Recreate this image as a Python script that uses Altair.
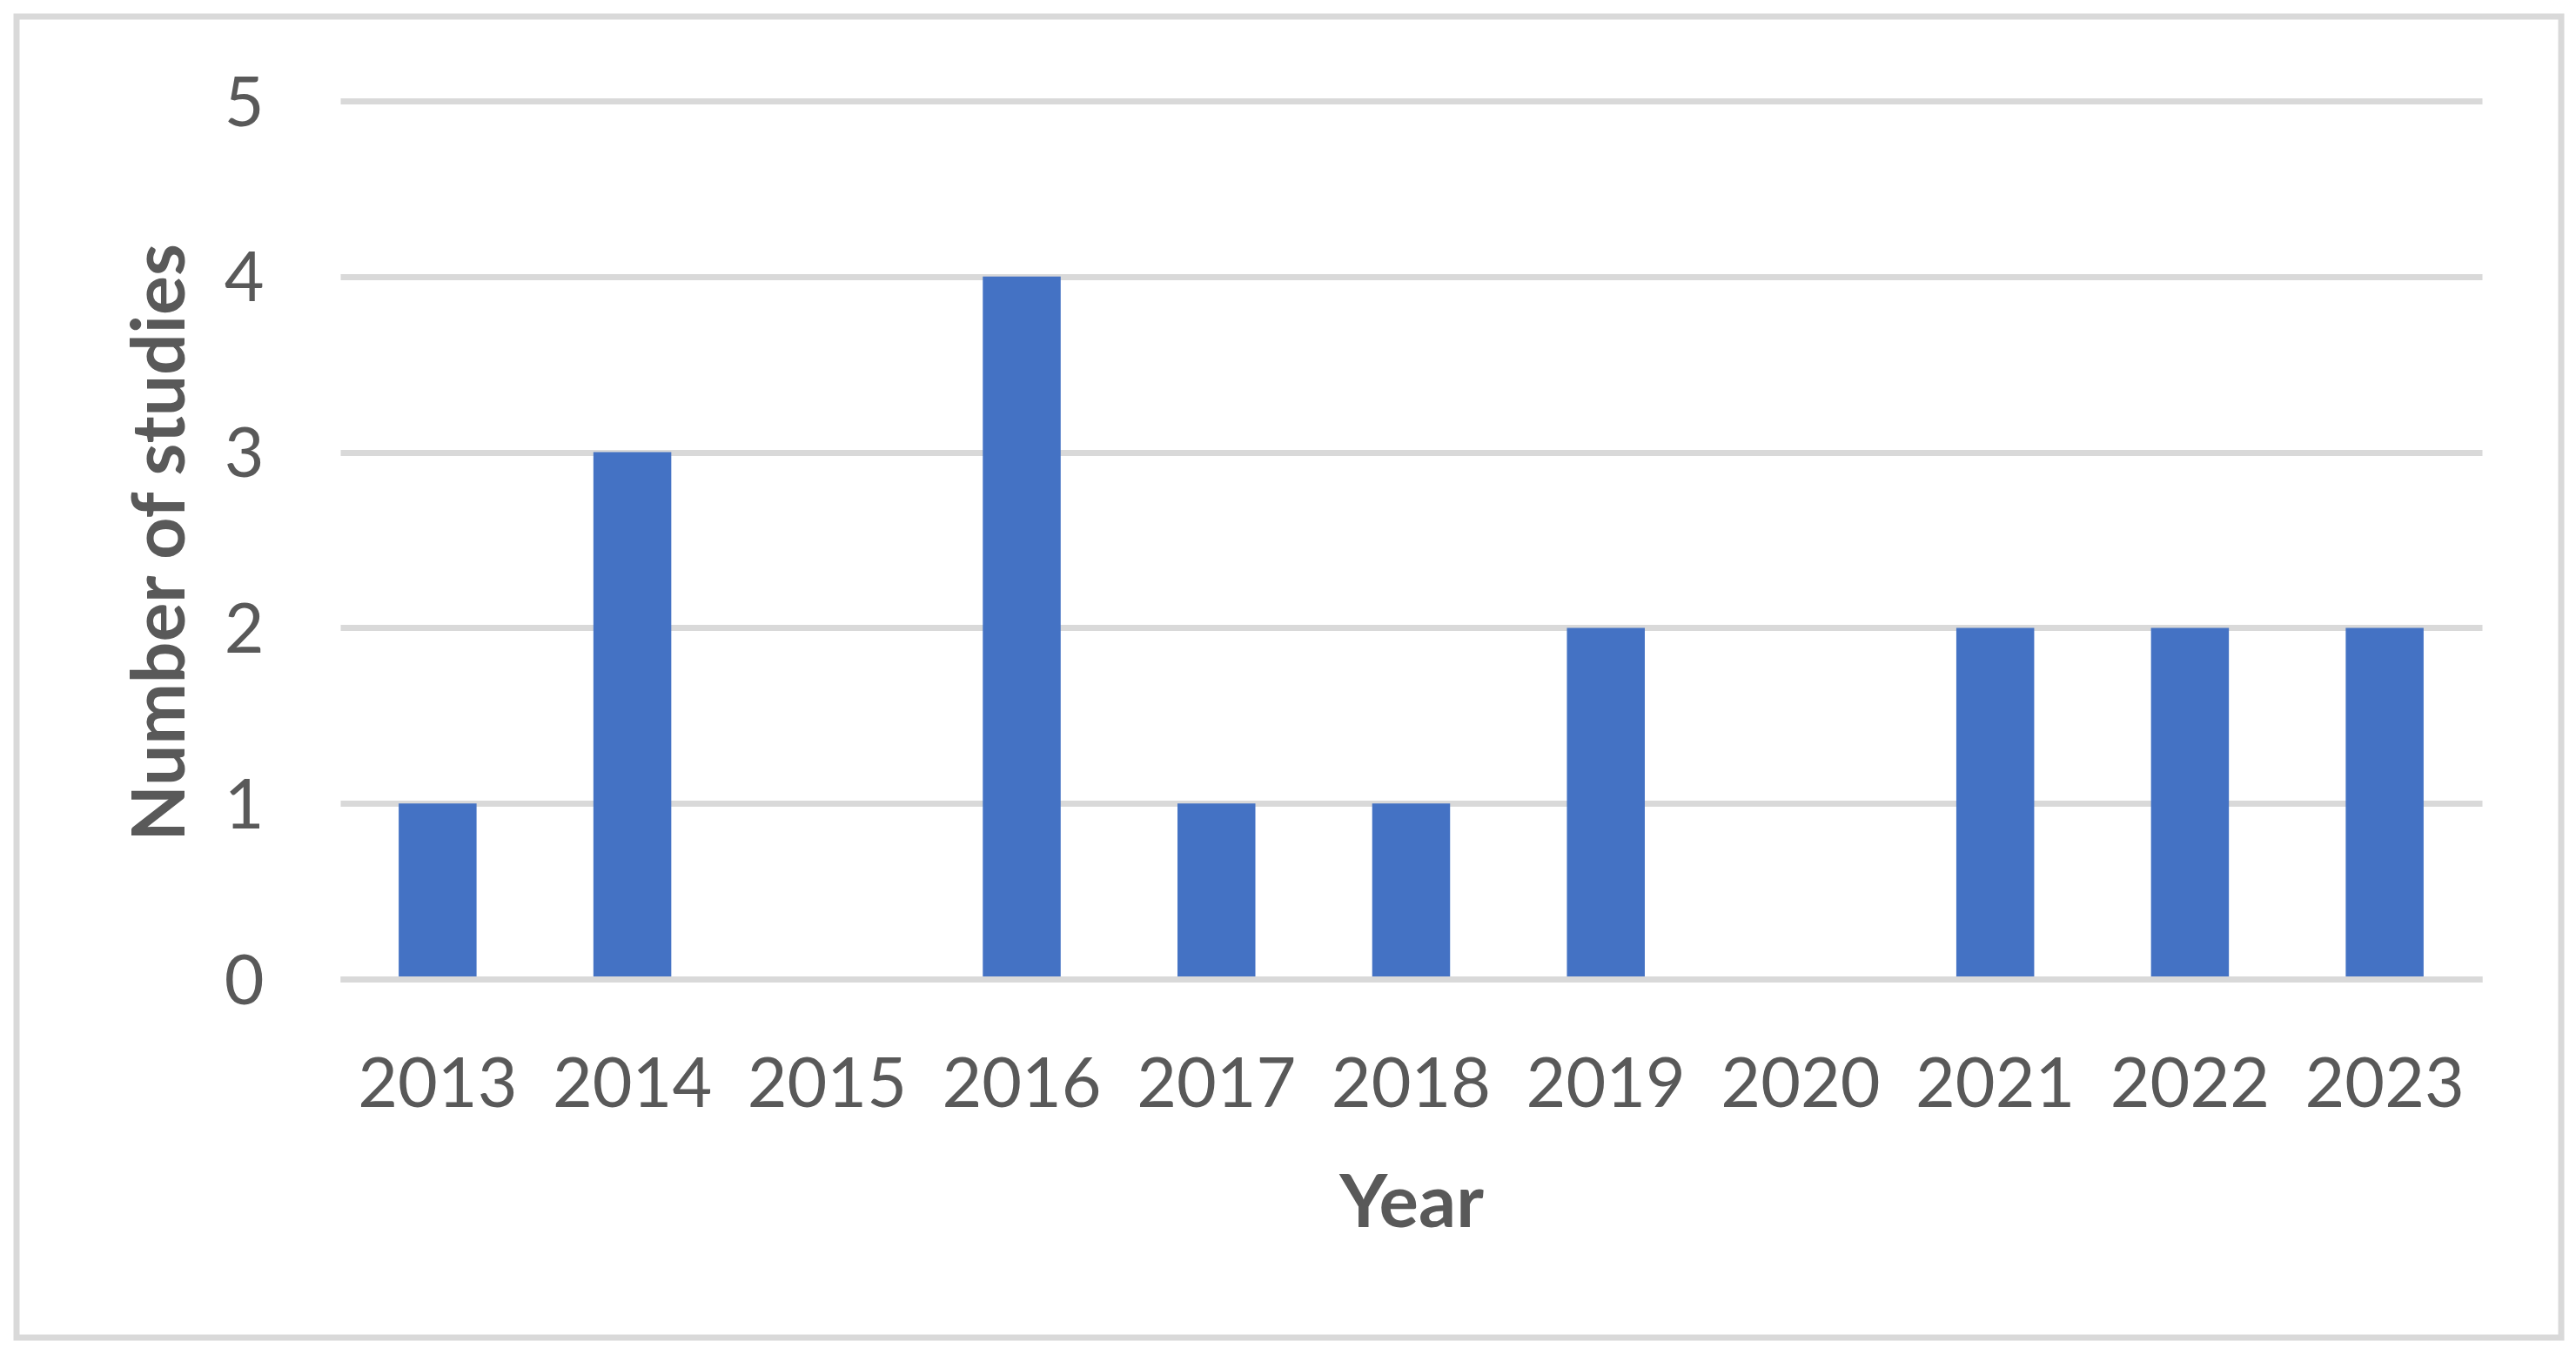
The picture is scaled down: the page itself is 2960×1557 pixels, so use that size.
import altair as alt
import pandas as pd

years = ["2013", "2014", "2015", "2016", "2017", "2018", "2019", "2020", "2021", "2022", "2023"]
counts = [1, 3, 0, 4, 1, 1, 2, 0, 2, 2, 2]
y_ticks = [0, 1, 2, 3, 4, 5]

df = pd.DataFrame({"Year": years, "Number of studies": counts})

TEXT = "#595959"
GRID = "#D9D9D9"
FONT = "Lato"

W, H = 2461, 1009

bars = alt.Chart(df).mark_bar(color="#4472C4").encode(
    x=alt.X(
        "Year:N",
        sort=years,
        scale=alt.Scale(paddingInner=0.6, paddingOuter=0.3),
        axis=alt.Axis(
            title="Year",
            labelAngle=0,
            labelLimit=0,
            labelFont=FONT,
            labelFontSize=79,
            labelColor=TEXT,
            labelBaseline="alphabetic",
            labelPadding=146,
            ticks=False,
            tickSize=0,
            domain=True,
            domainColor=GRID,
            domainWidth=7,
            grid=False,
            titleFont=FONT,
            titleFontSize=85,
            titleFontWeight="bold",
            titleColor=TEXT,
            titleBaseline="alphabetic",
            titleAlign="center",
            titleX=W / 2,
            titleY=284,
            zindex=1,
        ),
    ),
    y=alt.Y(
        "Number of studies:Q",
        scale=alt.Scale(domain=[0, 5], nice=False),
        axis=alt.Axis(
            title="Number of studies",
            values=y_ticks,
            format="d",
            labelFont=FONT,
            labelFontSize=79,
            labelColor=TEXT,
            labelBaseline="alphabetic",
            labelOffset=28,
            labelPadding=88,
            ticks=False,
            tickSize=0,
            domain=False,
            grid=True,
            gridColor=GRID,
            gridWidth=7,
            titleFont=FONT,
            titleFontSize=84,
            titleFontWeight="bold",
            titleColor=TEXT,
            titleAngle=270,
            titleBaseline="alphabetic",
            titleAlign="center",
            titleX=-180,
            titleY=507,
        ),
    ),
)

frame = alt.Chart(pd.DataFrame({"f": [0]})).mark_rect(
    fillOpacity=0, stroke=GRID, strokeWidth=7
).encode(
    x=alt.value(-372), x2=alt.value(2552), y=alt.value(-97), y2=alt.value(1421)
)

chart = alt.layer(frame, bars).properties(
    width=W,
    height=H,
    autosize=alt.AutoSizeParams(type="none"),
    padding={"left": 383, "top": 108, "right": 96, "bottom": 418},
    background="white",
).configure_view(strokeWidth=0)

chart.save("out.html", embed_options={"renderer": "svg", "actions": False})
